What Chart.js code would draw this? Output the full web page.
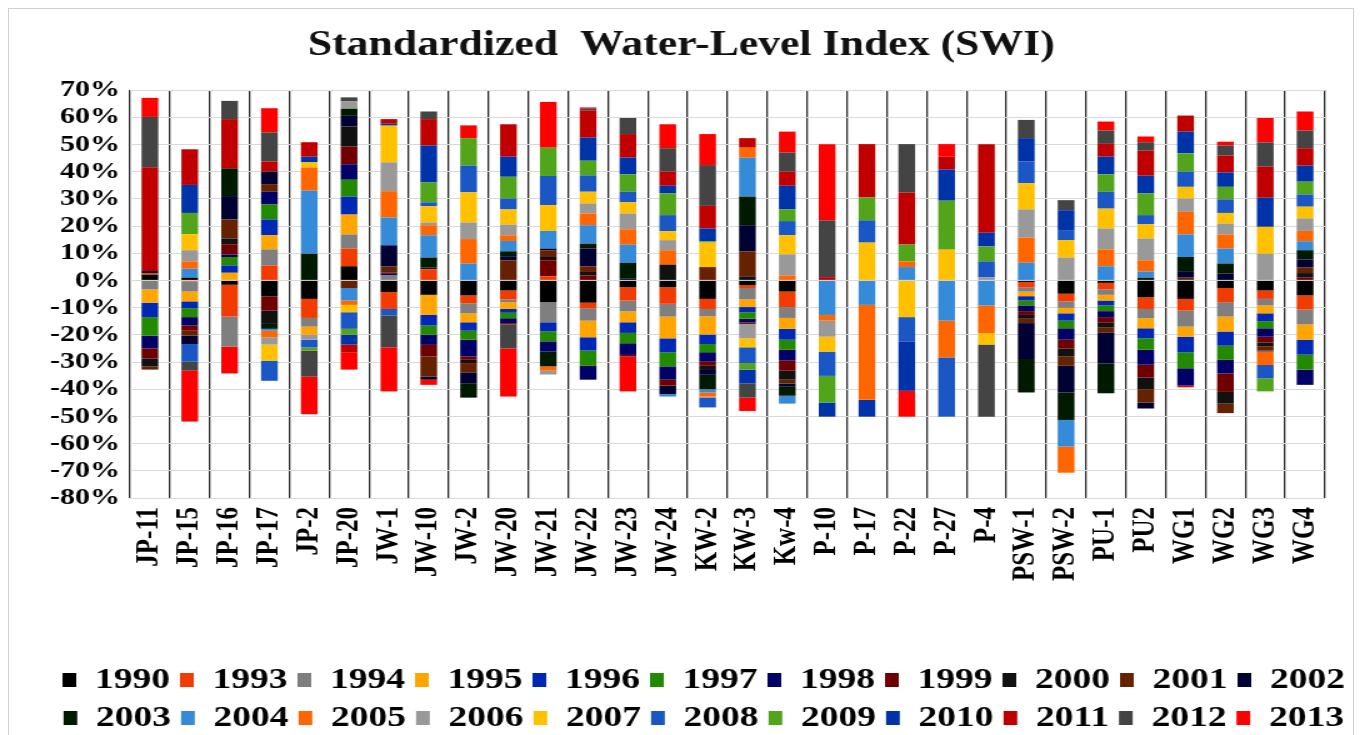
<!DOCTYPE html>
<html>
<head>
<meta charset="utf-8">
<script src="https://cdn.jsdelivr.net/npm/chart.js@4.4.1/dist/chart.umd.min.js"></script>
<style>
  html, body { margin: 0; padding: 0; background: #fff; overflow: hidden; }
  #wrap { position: absolute; left: 0; top: 0; width: 1090px; height: 743px; transform: scaleX(1.25); transform-origin: 0 0; }
  #frame { position: absolute; left: 8px; top: 8px; width: 1344px; height: 760px; border: 1px solid #d0d0d0; pointer-events: none; }
</style>
</head>
<body>
<div id="wrap"><canvas id="swiChart" width="1090" height="743" style="width:1090px;height:743px"></canvas></div>
<div id="frame"></div>
<script>
// Wells (categories)
const wells = ['JP-11', 'JP-15', 'JP-16', 'JP-17', 'JP-2', 'JP-20', 'JW-1', 'JW-10', 'JW-2', 'JW-20',
  'JW-21', 'JW-22', 'JW-23', 'JW-24', 'KW-2', 'KW-3', 'Kw-4', 'P-10', 'P-17', 'P-22',
  'P-27', 'P-4', 'PSW-1', 'PSW-2', 'PU-1', 'PU2', 'WG1', 'WG2', 'WG3', 'WG4'];

const years = ['1990', '1993', '1994', '1995', '1996', '1997', '1998', '1999', '2000', '2001', '2002',
  '2003', '2004', '2005', '2006', '2007', '2008', '2009', '2010', '2011', '2012', '2013'];

const yearColors = ['#000000', '#f23b00', '#7f7f7f', '#ffa500', '#0028b4', '#218a00', '#000066', '#700000',
  '#111111', '#662200', '#000033', '#001a00', '#368bd9', '#ff6600', '#999999', '#ffc000',
  '#1a56c4', '#52a41a', '#0033a8', '#c00000', '#444444', '#ff0000'];

// SWI values (%) per year, one entry per well
const y1990 = [2.1, 1.0, -1.6, -5.9, -6.8, 5.2, -4.3, -5.3, -5.5, -3.7, -8.0, -8.2, -2.5, -2.5, -6.8, -1.8, -4.1, 0, 0, 0, 0, 0, -0.6, -4.9, -0.9, -6.2, -6.8, -2.8, -3.7, -5.5];
const y1993 = [0.6, -0.4, -11.7, 5.5, -7.0, 6.5, -6.2, 4.1, -2.9, -3.3, 1.5, -2.0, -4.9, -6.1, -3.7, -1.0, -5.7, 0, 0, 0, 0, 0, -1.9, -2.8, -2.4, -4.3, -4.3, -5.2, -3.1, -5.2];
const y1994 = [-3.3, -3.7, -11.1, 5.9, -3.2, 5.2, 1.8, 0, -3.7, -1.0, -7.4, -4.6, -4.0, -4.7, -2.7, -4.2, -4.0, 0, 0, 0, 0, 0, -1.6, -2.4, -2.0, -3.4, -5.9, -5.3, -2.4, -5.5];
const y1995 = [-4.9, -3.6, 2.8, 5.2, -3.0, 7.3, 0, -7.4, -3.3, -2.5, 0, -6.1, -4.0, -8.0, -6.7, -2.8, -4.0, 0, 0, 0, 0, 0, -1.7, -2.0, -2.1, -3.7, -3.7, -5.5, -2.9, -5.6];
const y1996 = [-5.3, -2.5, 2.7, 5.8, 0, 6.6, 0, -3.9, -3.1, -1.4, -3.3, -4.9, -3.9, -5.1, -3.5, -1.9, -4.0, 0, 0, 0, 0, 0, -1.6, -2.7, -1.8, -3.7, -5.7, -5.2, -2.9, -5.5];
const y1997 = [-6.8, -3.3, 3.1, 5.5, 0, 6.2, 0, -3.4, -3.3, -2.0, -3.7, -5.6, -3.8, -5.2, -3.0, -2.4, -3.7, 0, 0, 0, 0, 0, -1.8, -2.8, -2.1, -4.2, -5.9, -5.2, -2.6, -5.5];
const y1998 = [-4.7, -3.1, 0.9, 4.7, 0, 5.7, 0.6, -3.7, -6.2, -1.8, -3.8, -5.1, -4.3, -4.9, -3.5, -1.3, -4.0, 0, 0, 0, 0, 0, -2.1, -4.2, -2.2, -5.5, -6.4, -5.0, -3.1, -5.6];
const y1999 = [-3.7, -1.9, 3.8, -5.2, 0, 6.5, 0.5, -4.3, -1.2, -0.5, 5.9, 1.8, -0.6, -2.2, -1.5, -0.6, -3.7, 0, 0, 0, 0, 0, -1.4, -3.2, -1.9, -4.7, 0, -6.8, -2.1, 1.0];
const y2000 = [-2.9, 0, 2.1, -4.9, 0, 7.4, 0.5, 0.6, -1.2, 0.2, 1.2, 1.3, 0, 5.8, -1.2, 1.5, -3.3, 0, 0, 0, 0, 0, -1.4, -3.0, -1.8, -4.3, 0.2, -4.3, -1.4, 1.7];
const y2001 = [-1.2, -1.8, 7.0, 2.8, 0, -2.8, 1.8, -7.4, -3.4, 7.2, 2.5, 2.1, 0, 0, 4.9, 9.2, -1.4, 0, 0, 0, 0, 0, -1.6, -3.4, -1.9, -4.9, 0.8, -3.5, -1.6, 2.0];
const y2002 = [0.8, -3.1, 8.6, 4.6, 0, 3.9, 7.7, -1.1, -4.0, 1.5, 0.6, 6.5, 0.6, -3.1, -2.1, 9.6, -1.2, 0, 0, 0, 0, 0, -13.2, -9.8, -11.4, -2.2, 2.4, 2.5, -0.3, 3.0];
const y2003 = [0, 0, 10.2, -1.8, 9.8, 2.6, 0, 3.7, -5.3, 1.8, -5.4, 1.8, 5.9, 0, -5.3, 10.5, -3.3, 0, 0, 0, 0, 0, -12.3, -10.1, -11.0, 1.0, 5.2, 3.7, 0, 3.4];
const y2004 = [0, 3.3, 0, -0.7, 23.2, -4.6, 10.2, 8.2, 6.2, 3.8, 6.5, 6.8, 6.6, -0.9, -1.2, 14.3, -2.9, -12.7, -9.0, 4.9, -14.8, -9.2, 6.5, -9.8, 5.2, 2.3, 8.3, 5.5, 0, 3.3];
const y2005 = [0, 2.7, 0, -2.4, 8.5, -1.6, 9.7, 3.7, 9.0, 2.1, -1.6, 4.3, 5.7, 5.3, -1.5, 3.7, 1.8, -2.1, -34.9, 2.1, -13.5, -10.2, 9.2, -9.6, 6.2, 4.1, 8.3, 5.2, -5.0, 3.8];
const y2006 = [0, 4.1, 0, -2.7, -1.8, 2.7, 10.6, 1.0, 6.1, 3.9, -1.4, 3.7, 5.8, 3.7, -0.5, -5.3, 7.8, -5.9, 0, 0, 0, 1.2, 10.4, 8.4, 7.7, 8.0, 4.9, 4.0, 9.8, 4.6];
const y2007 = [0, 5.9, 0, -5.9, 1.9, -2.7, 13.5, 6.0, 11.1, 5.6, 9.5, 4.3, 4.1, 3.3, 9.0, -3.3, 7.0, -5.5, 13.9, -13.5, 11.3, -4.2, 9.6, 6.4, 7.3, 5.3, 4.3, 3.9, 9.9, 4.3];
const y2008 = [0, -6.5, 0, -7.4, -2.8, -6.1, -2.4, 1.4, 9.8, 4.0, 10.7, 6.0, 3.9, 5.9, -3.5, -5.8, 5.2, -8.9, 8.2, -8.9, -21.8, 5.8, 8.0, 3.7, 6.2, 3.3, 5.6, 5.0, -4.9, 4.5];
const y2009 = [0, 7.8, 0, 0, -1.2, -2.2, 0, 7.3, 10.1, 8.0, 10.4, 5.4, 6.4, 8.0, 0.5, -2.4, 4.3, -9.8, 8.4, 6.2, 18.0, 5.5, 0, 0, 6.4, 8.0, 6.7, 4.6, -4.8, 4.7];
const y2010 = [0, 10.3, 0, 0, 2.1, -3.6, 0.7, 13.6, 0, 7.4, 0, 8.5, 6.2, 2.8, 4.7, -5.1, 8.7, -5.2, -6.2, -18.2, 11.5, 5.0, 8.6, 7.3, 6.5, 6.5, 8.0, 5.3, 10.7, 5.9];
const y2011 = [38.1, 13.1, 18.1, 3.7, 5.3, -2.8, 1.7, 9.7, 0, 11.9, 0, 9.9, 8.6, 5.2, 8.3, 3.5, 5.2, 1.2, 19.6, 19.1, 4.7, 32.6, 0, 0, 4.7, 9.2, 5.9, 6.2, 11.4, 6.4];
const y2012 = [18.5, -3.3, 6.7, 10.7, -9.6, 1.5, -11.7, 2.8, 0, -8.8, 0, 0.7, 5.9, 8.6, 15.0, -5.2, 7.0, 20.9, 0, 17.8, 0, -26.5, 6.7, 3.7, 4.9, 3.1, 0, 3.7, 8.9, 6.5];
const y2013 = [7.0, -18.7, -9.8, 8.9, -13.8, -6.4, -16.2, -1.9, 4.7, -17.7, 16.8, 0.5, -12.8, 8.8, 11.4, -4.9, 7.7, 28.0, 0, -9.5, 4.6, 0, 0, 0, 3.3, 2.1, -0.6, 1.4, 9.0, 7.0];

const series = [y1990, y1993, y1994, y1995, y1996, y1997, y1998, y1999, y2000, y2001, y2002,
  y2003, y2004, y2005, y2006, y2007, y2008, y2009, y2010, y2011, y2012, y2013];

const FONT = "'Liberation Serif', 'Times New Roman', serif";

// nudge the legend rows a little to the right, like the original sheet
const legendShift = {
    id: 'legendShift',
    afterLayout(chart) {
        chart.legend.left += 18;
        chart.legend.right += 18;
    }
};

const ctx = document.getElementById('swiChart').getContext('2d');
const swiChart = new Chart(ctx, {
    type: 'bar',
    data: {
        labels: wells,
        datasets: years.map((yr, i) => ({
            label: yr,
            data: series[i],
            backgroundColor: yearColors[i],
            borderWidth: 0,
            barPercentage: 0.42,
            categoryPercentage: 1.0
        }))
    },
    options: {
        responsive: false,
        animation: false,
        layout: {
            padding: { left: 20, right: 20, top: 0, bottom: 0 }
        },
        plugins: {
            title: {
                display: true,
                text: 'Standardized  Water-Level Index (SWI)',
                color: '#111',
                font: { family: FONT, size: 35, weight: 'bold' },
                padding: { top: 25, bottom: 23 }
            },
            legend: {
                position: 'bottom',
                labels: {
                    color: '#000',
                    boxWidth: 11,
                    boxHeight: 14,
                    padding: 8,
                    font: { family: FONT, size: 30, weight: 'bold' }
                }
            },
            tooltip: { enabled: false }
        },
        scales: {
            x: {
                stacked: true,
                grid: { offset: true, color: '#2b2b2b', lineWidth: 1.3, drawTicks: false },
                border: { display: false },
                ticks: {
                    autoSkip: false,
                    minRotation: 90,
                    maxRotation: 90,
                    padding: 9,
                    color: '#000',
                    font: { family: FONT, size: 25, weight: 'bold' }
                },
                afterFit: (scale) => { scale.height = 159; }
            },
            y: {
                stacked: true,
                min: -80,
                max: 70,
                grid: { color: '#d9d9d9', lineWidth: 1, drawTicks: false },
                border: { display: false },
                ticks: {
                    stepSize: 10,
                    autoSkip: false,
                    padding: 8,
                    color: '#000',
                    font: { family: FONT, size: 24, weight: 'bold' },
                    callback: (v) => v + '%'
                },
                afterFit: (scale) => { scale.width = 84; }
            },
            yr: {
                position: 'right',
                grid: { display: false, drawTicks: false },
                border: { display: false },
                ticks: { display: false },
                afterFit: (scale) => { scale.width = 10; }
            }
        }
    },
    plugins: [legendShift]
});
</script>
</body>
</html>
